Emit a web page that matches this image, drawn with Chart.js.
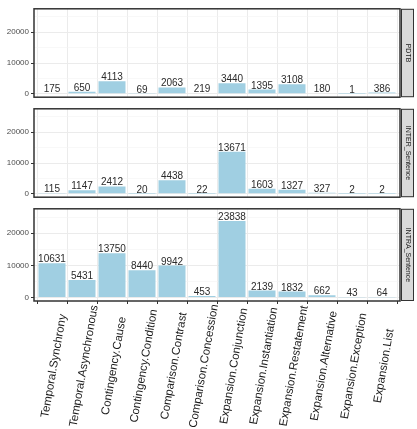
<!DOCTYPE html>
<html>
<head>
<meta charset="utf-8">
<script src="https://cdn.jsdelivr.net/npm/chart.js@4"></script>
<style>
  body { margin: 0; background: #fff; }
  #wrap { position: relative; width: 417px; height: 429px; }
  #wrap canvas { position: absolute; left: 0; }
</style>
</head>
<body>
<div id="wrap">
  <canvas id="c0" width="417" height="102" style="top:2px"></canvas>
  <canvas id="c1" width="417" height="102" style="top:102px"></canvas>
  <canvas id="c2" width="417" height="227" style="top:202px"></canvas>
</div>
<script>
const categories = ['Temporal.Synchrony', 'Temporal.Asynchronous', 'Contingency.Cause', 'Contingency.Condition',
  'Comparison.Contrast', 'Comparison.Concession', 'Expansion.Conjunction', 'Expansion.Instantiation',
  'Expansion.Restatement', 'Expansion.Alternative', 'Expansion.Exception', 'Expansion.List']
const pdtb = [175, 650, 4113, 69, 2063, 219, 3440, 1395, 3108, 180, 1, 386]
const interSentence = [115, 1147, 2412, 20, 4438, 22, 13671, 1603, 1327, 327, 2, 2]
const intraSentence = [10631, 5431, 13750, 8440, 9942, 453, 23838, 2139, 1832, 662, 43, 64]
const panelNames = ['PDTB', 'INTER_Sentence', 'INTRA_Sentence']
const yTicks = [0, 5000, 10000, 15000, 20000, 25000]

const barColor = '#a0cfe2'
const fontFamily = 'Arial, "Liberation Sans", sans-serif'

// panel border, facet strip, value labels and (bottom panel) x labels
const facetPlugin = {
  id: 'facet',
  afterDatasetsDraw(chart) {
    const ctx = chart.ctx
    const vals = chart.data.datasets[0].data
    const meta = chart.getDatasetMeta(0)
    ctx.save()
    ctx.fillStyle = '#2b2b2b'
    ctx.font = '10px ' + fontFamily
    ctx.textAlign = 'center'
    ctx.textBaseline = 'alphabetic'
    for (let i = 0; i < meta.data.length; i++) {
      const bar = meta.data[i]
      ctx.fillText(vals[i].y, bar.x, bar.y - 1)
    }
    ctx.restore()
  },
  afterDraw(chart, args, opts) {
    const ctx = chart.ctx
    const a = chart.chartArea
    ctx.save()
    // strip
    ctx.fillStyle = '#d9d9d9'
    ctx.fillRect(a.right + 1, a.top, 13, a.bottom - a.top)
    ctx.strokeStyle = '#333'
    ctx.lineWidth = 1
    ctx.strokeRect(a.right + 1.5, a.top + 0.5, 12, a.bottom - a.top - 1)
    ctx.translate(a.right + 7.5, (a.top + a.bottom) / 2)
    ctx.rotate(Math.PI / 2)
    ctx.fillStyle = '#1a1a1a'
    ctx.font = '7px ' + fontFamily
    ctx.textAlign = 'center'
    ctx.textBaseline = 'middle'
    ctx.fillText(opts.title, 0, 0)
    ctx.restore()
    // panel border
    ctx.save()
    ctx.strokeStyle = '#333'
    ctx.lineWidth = 1.5
    ctx.strokeRect(a.left, a.top, a.right - a.left, a.bottom - a.top)
    ctx.restore()
    // x labels, centred under the ticks like ggplot's hjust = 0.5
    if (opts.showX) {
      const xs = chart.scales.x
      ctx.save()
      ctx.fillStyle = '#1a1a1a'
      ctx.font = '11.5px ' + fontFamily
      ctx.textAlign = 'center'
      ctx.textBaseline = 'middle'
      for (let i = 0; i < categories.length; i++) {
        ctx.save()
        ctx.translate(xs.getPixelForValue(i + 1) + 2, a.bottom + 65)
        ctx.rotate(-80 * Math.PI / 180)
        ctx.fillText(categories[i], 0, 0)
        ctx.restore()
      }
      ctx.restore()
    }
  }
}

function makePanel(id, title, values, showX) {
  new Chart(document.getElementById(id), {
    type: 'bar',
    data: {
      datasets: [{
        data: values.map((v, i) => ({ x: i + 1, y: v })),
        backgroundColor: barColor,
        barPercentage: 0.9,
        categoryPercentage: 1
      }]
    },
    options: {
      responsive: false,
      animation: false,
      layout: { padding: { top: 5, right: 17, left: 0, bottom: 0 } },
      plugins: {
        legend: { display: false },
        tooltip: { enabled: false },
        facet: { title: title, showX: showX }
      },
      scales: {
        x: {
          type: 'linear',
          min: 0.4,
          max: 12.6,
          offset: false,
          afterBuildTicks: s => { s.ticks = categories.map((c, i) => ({ value: i + 1 })) },
          afterFit: s => { s.height = showX ? 128 : 3 },
          border: { display: false },
          grid: { color: '#ebebeb', lineWidth: 1, drawTicks: showX, tickLength: 3, tickColor: '#333' },
          ticks: { display: false }
        },
        y: {
          min: -1100,
          max: 27600,
          afterBuildTicks: s => { s.ticks = yTicks.map(v => ({ value: v })) },
          afterFit: s => { s.width = 34 },
          border: { display: false },
          grid: {
            color: c => c.tick && c.tick.value % 10000 === 0 ? '#ebebeb' : '#f3f3f3',
            lineWidth: c => c.tick && c.tick.value % 10000 === 0 ? 1 : 0.6,
            tickColor: c => c.tick && c.tick.value % 10000 === 0 ? '#333' : 'rgba(0,0,0,0)',
            tickLength: 3
          },
          ticks: {
            padding: 2,
            color: '#4d4d4d',
            font: { size: 8, family: fontFamily },
            callback: v => v % 10000 === 0 ? v : ''
          }
        }
      }
    },
    plugins: [facetPlugin]
  })
}

makePanel('c0', panelNames[0], pdtb, false)
makePanel('c1', panelNames[1], interSentence, false)
makePanel('c2', panelNames[2], intraSentence, true)
</script>
</body>
</html>
